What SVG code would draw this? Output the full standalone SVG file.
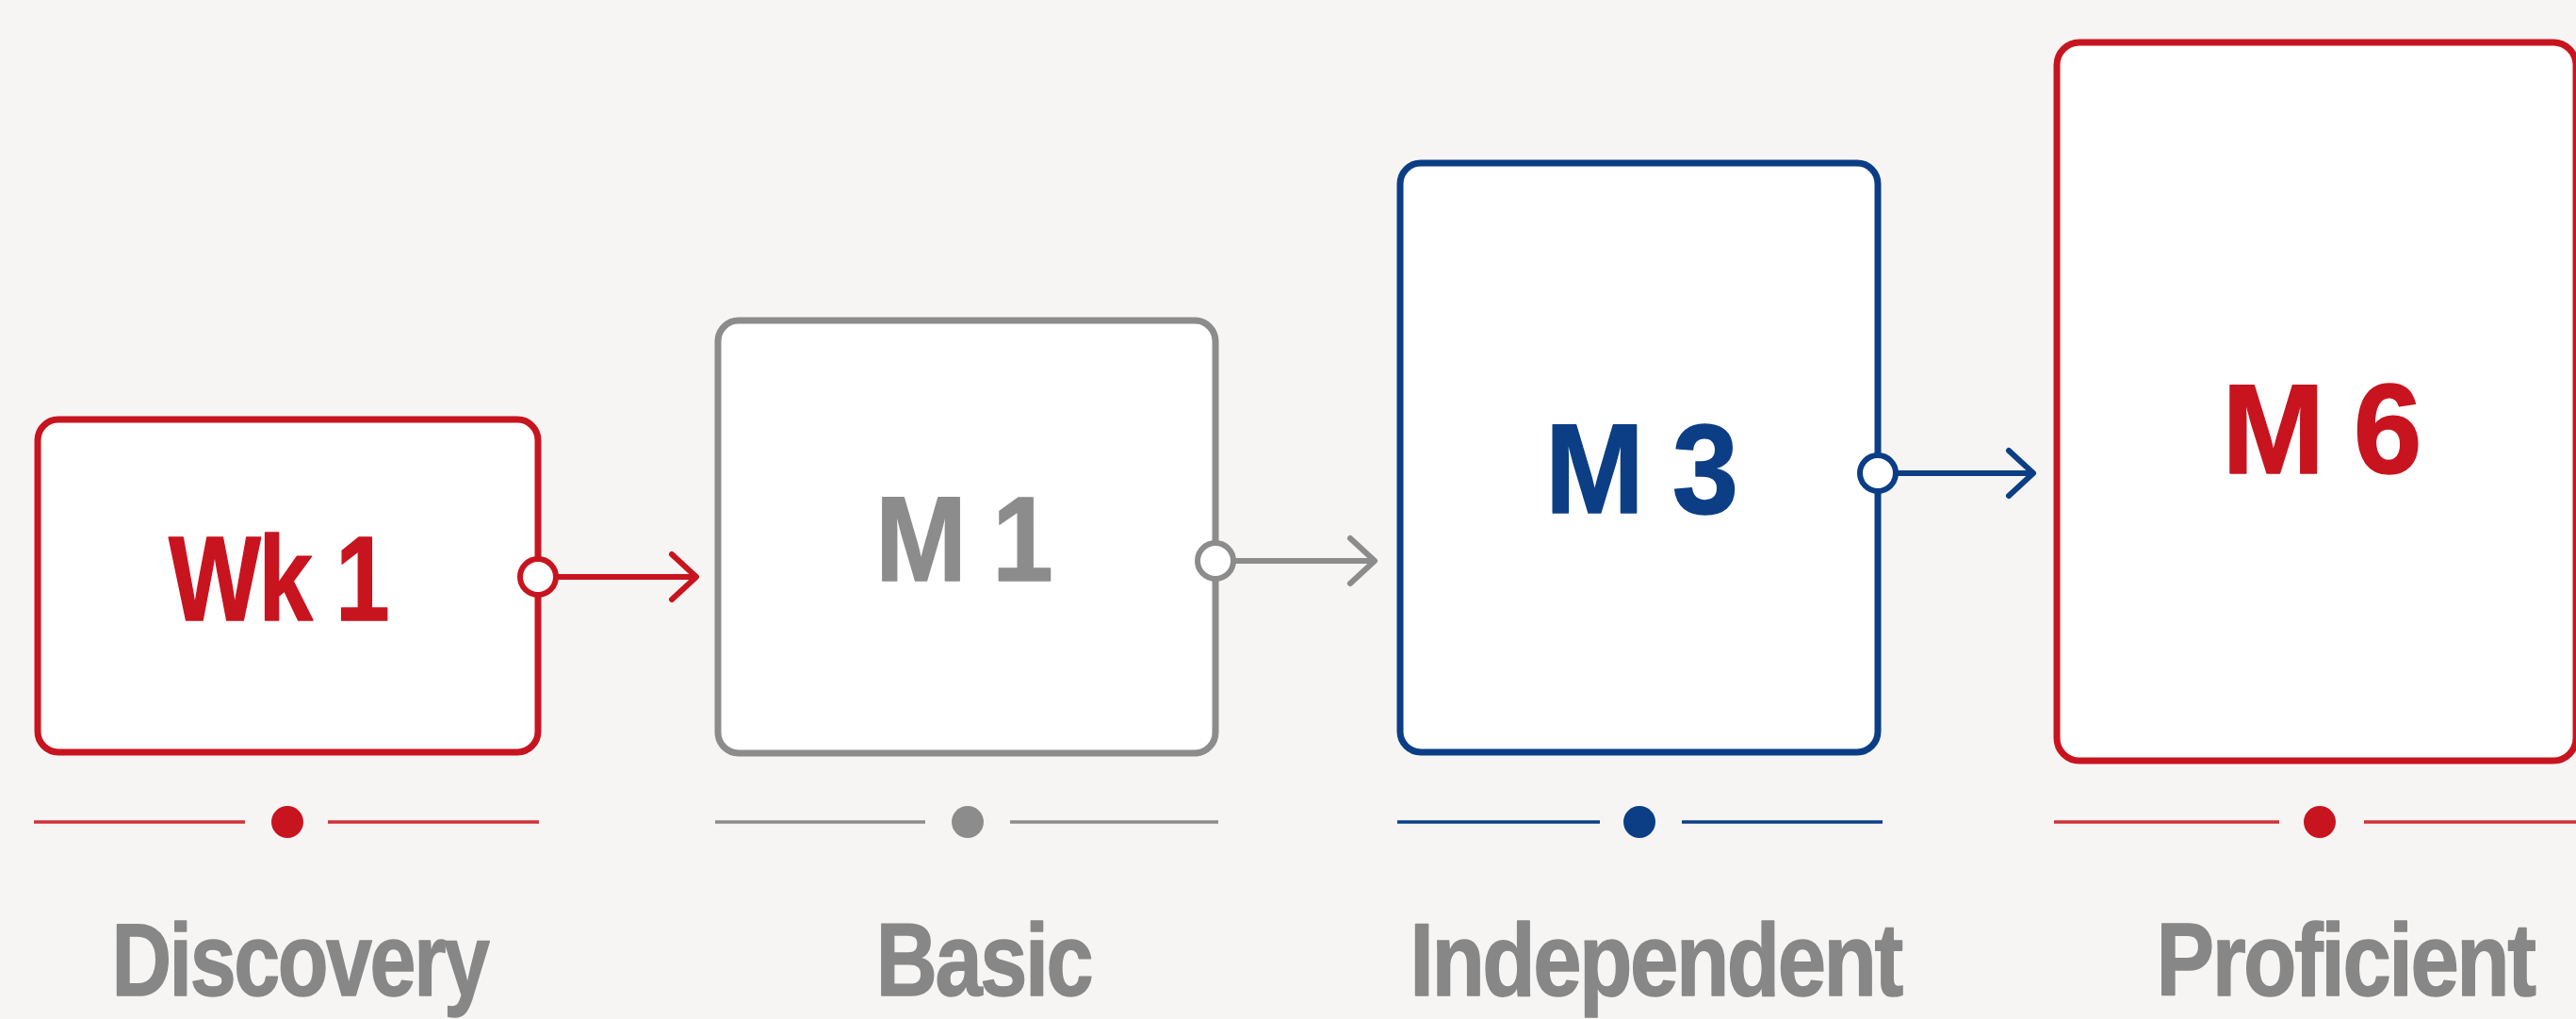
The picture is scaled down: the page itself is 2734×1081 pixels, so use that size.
<svg xmlns="http://www.w3.org/2000/svg" width="2734" height="1081" viewBox="0 0 2734 1081">
  <style>
    .box { fill: #ffffff; stroke-width: 7; }
    .red { stroke: #c8141f; }
    .gray { stroke: #8c8c8c; }
    .blue { stroke: #0c3e86; }
    .num { font-family: "Liberation Sans", Arial, Helvetica, sans-serif; font-weight: bold; text-anchor: middle; letter-spacing: -3px; stroke-width: 1.5; stroke-linejoin: round; }
    .lbl { font-family: "Liberation Sans", Arial, Helvetica, sans-serif; font-weight: bold; font-size: 110px; fill: #878787; stroke: #878787; stroke-width: 1.5; stroke-linejoin: round; letter-spacing: -3px; text-anchor: middle; }
    .port { fill: #ffffff; stroke-width: 6; }
    .conn { fill: none; stroke-width: 6; stroke-linecap: round; stroke-linejoin: round; }
    .tl { stroke-width: 3.5; fill: none; }
  </style>
  <rect x="0" y="0" width="2734" height="1081" fill="#f6f5f3"/>

  <g id="node-wk1">
    <rect class="box red" x="40" y="445" width="531" height="353" rx="22"/>
    <text class="num" transform="translate(295,658) scale(0.81,1)" font-size="128" fill="#c8141f" stroke="#c8141f">Wk 1</text>
    <line class="tl" x1="36" y1="872" x2="260" y2="872" stroke="#d0303b"/>
    <line class="tl" x1="348" y1="872" x2="572" y2="872" stroke="#d0303b"/>
    <circle cx="305" cy="872" r="17" fill="#c8141f"/>
    <text class="lbl" transform="translate(318,1056) scale(0.8,1)">Discovery</text>
  </g>

  <g id="node-m1">
    <rect class="box gray" x="762" y="340" width="528" height="459" rx="22"/>
    <text class="num" transform="translate(1022,616) scale(0.91,1)" font-size="128" fill="#8c8c8c" stroke="#8c8c8c">M 1</text>
    <line class="tl" x1="759" y1="872" x2="982" y2="872" stroke="#8c8c8c"/>
    <line class="tl" x1="1072" y1="872" x2="1293" y2="872" stroke="#8c8c8c"/>
    <circle cx="1027" cy="872" r="17" fill="#8c8c8c"/>
    <text class="lbl" transform="translate(1044,1056) scale(0.82,1)">Basic</text>
  </g>

  <g id="node-m3">
    <rect class="box blue" x="1486" y="173" width="507" height="625" rx="22"/>
    <text class="num" transform="translate(1741,544) scale(0.93,1)" font-size="136" fill="#0c3e86" stroke="#0c3e86">M 3</text>
    <line class="tl" x1="1483" y1="872" x2="1698" y2="872" stroke="#0c3e86"/>
    <line class="tl" x1="1785" y1="872" x2="1998" y2="872" stroke="#0c3e86"/>
    <circle cx="1740" cy="872" r="17" fill="#0c3e86"/>
    <text class="lbl" transform="translate(1757,1056) scale(0.84,1)">Independent</text>
  </g>

  <g id="node-m6">
    <rect class="box red" x="2183" y="45" width="551" height="762" rx="24"/>
    <text class="num" transform="translate(2463,502) scale(0.97,1)" font-size="135" fill="#c8141f" stroke="#c8141f">M 6</text>
    <line class="tl" x1="2180" y1="872" x2="2419" y2="872" stroke="#d0303b"/>
    <line class="tl" x1="2509" y1="872" x2="2734" y2="872" stroke="#d0303b"/>
    <circle cx="2462" cy="872" r="17" fill="#c8141f"/>
    <text class="lbl" transform="translate(2489,1056) scale(0.84,1)">Proficient</text>
  </g>

  <g id="connectors">
    <g id="conn-wk1-m1">
      <line class="conn red" x1="592" y1="612" x2="738" y2="612"/>
      <polyline class="conn red" points="713,588 739,612 713,636"/>
      <circle class="port red" cx="571" cy="612" r="19"/>
    </g>
    <g id="conn-m1-m3">
      <line class="conn gray" x1="1311" y1="595" x2="1458" y2="595"/>
      <polyline class="conn gray" points="1433,571 1459,595 1433,619"/>
      <circle class="port gray" cx="1290" cy="595" r="19"/>
    </g>
    <g id="conn-m3-m6">
      <line class="conn blue" x1="2014" y1="502" x2="2157" y2="502"/>
      <polyline class="conn blue" points="2132,478 2158,502 2132,526"/>
      <circle class="port blue" cx="1993" cy="502" r="19"/>
    </g>
  </g>
</svg>
